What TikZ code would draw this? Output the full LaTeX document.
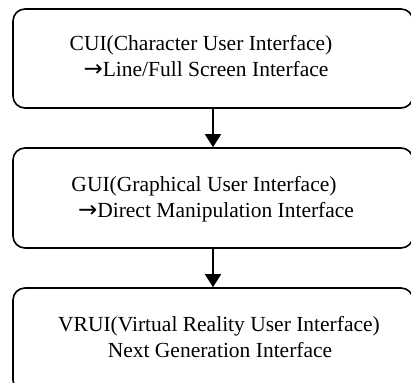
\documentclass[tikz,border=0pt]{standalone}
\usepackage{fontspec}
\setmainfont{Liberation Serif}
\newfontfamily\arrowfont{DejaVu Sans}
\usetikzlibrary{arrows.meta}
\newcommand{\toarrow}{{\arrowfont\fontsize{23}{25}\selectfont →}}
\begin{document}
\begin{tikzpicture}[x=1pt,y=-1pt,
  stage/.style={draw=black, line width=1.6pt, rounded corners=12pt,
    minimum width=400pt, inner sep=0pt},
  txt/.style={anchor=base, inner sep=0pt, font=\fontsize{21.5}{25}\selectfont},
  flow/.style={line width=1.6pt, -{Triangle[width=16pt,length=13pt]}}]
  \useasboundingbox (0,0) rectangle (411,382);
  \clip (0,0) rectangle (411,382);
  % three stages of user interfaces
  \node[stage, minimum height=99pt]  (b1) at (213,58.5) {};
  \node[stage, minimum height=100pt] (b2) at (213,198) {};
  \node[stage, minimum height=104pt] (b3) at (213,340) {};
  % labels
  \node[txt] (t1a) at (201,51)  {CUI(Character User Interface)};
  \node[txt] (t1b) at (206,77)  {\toarrow Line/Full Screen Interface};
  \node[txt] (t2a) at (204,191) {GUI(Graphical User Interface)};
  \node[txt] (t2b) at (216,217) {\toarrow Direct Manipulation Interface};
  \node[txt] (t3a) at (219,331) {VRUI(Virtual Reality User Interface)};
  \node[txt] (t3b) at (220,357) {Next Generation Interface};
  % connectors
  \draw[flow] (b1.south) -- (b2.north);
  \draw[flow] (b2.south) -- (b3.north);
\end{tikzpicture}
\end{document}
